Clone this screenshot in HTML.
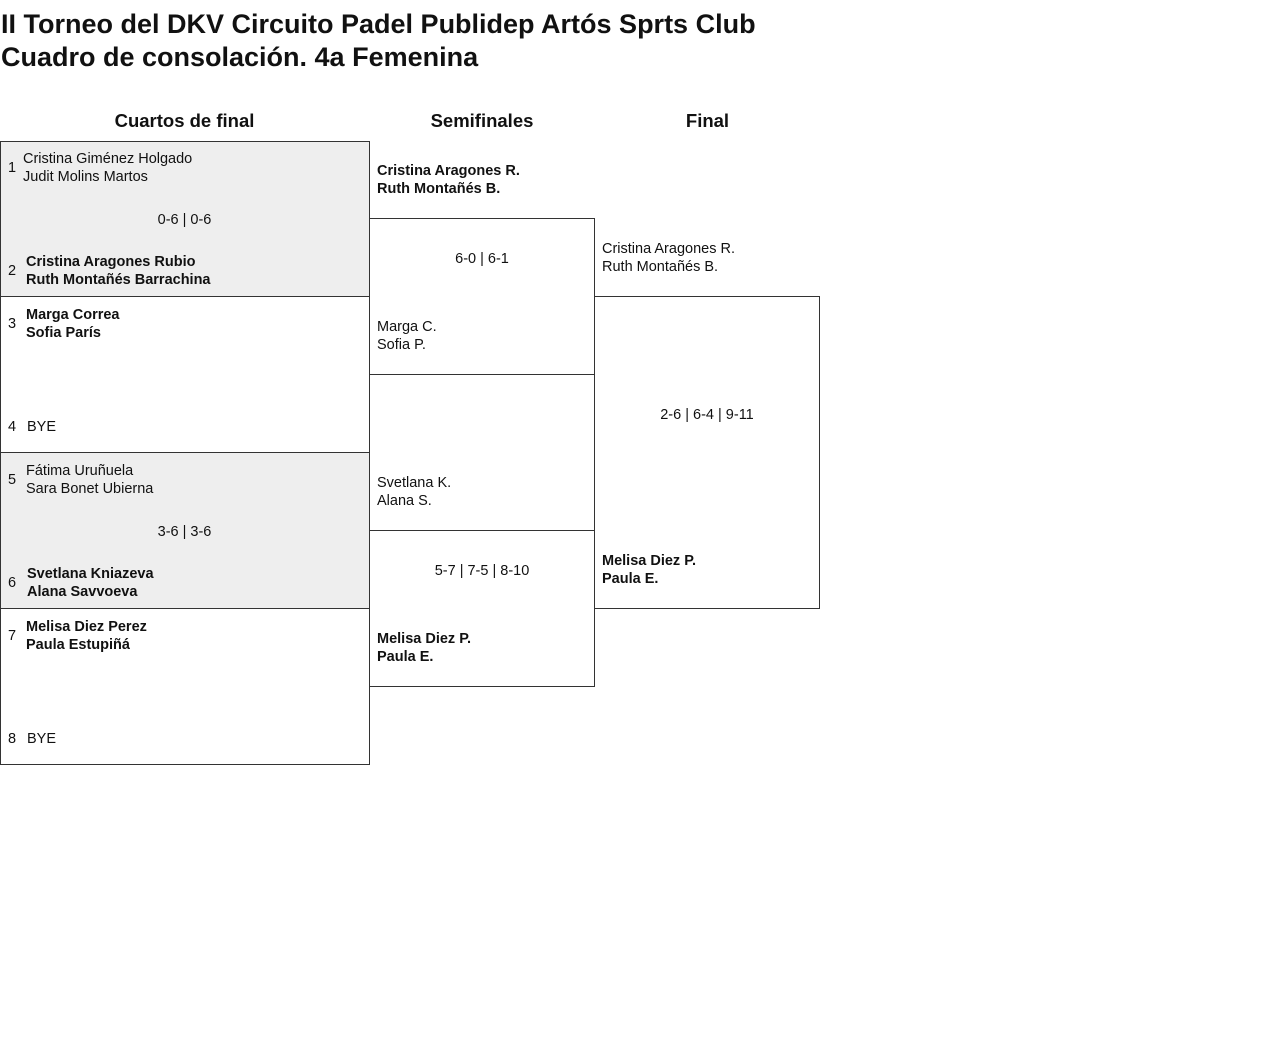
<!DOCTYPE html>
<html><head><meta charset="utf-8"><style>
body{margin:0;width:1280px;height:1048px;background:#fff;font-family:"Liberation Sans",sans-serif;color:#111;position:relative;overflow:hidden}
.a{position:absolute;white-space:nowrap}
.t{font-size:27px;font-weight:bold;left:1px;letter-spacing:0}
.h{font-size:18.5px;font-weight:bold;text-align:center}
.box{position:absolute;border:1px solid #333;box-sizing:border-box}
.g{background:#eee}
.n{font-size:14.5px;line-height:18px}
.b{font-weight:bold}
</style></head><body>
<div class="a t" style="top:9px">II Torneo del DKV Circuito Padel Publidep Artós Sprts Club</div>
<div class="a t" style="top:42px">Cuadro de consolación. 4a Femenina</div>
<div class="a h" style="left:0;width:369px;top:110px">Cuartos de final</div>
<div class="a h" style="left:369px;width:226px;top:110px">Semifinales</div>
<div class="a h" style="left:595px;width:225px;top:110px">Final</div>

<div class="box g" style="left:0;top:141px;width:370px;height:156px"></div>
<div class="box" style="left:0;top:296px;width:370px;height:157px"></div>
<div class="box g" style="left:0;top:452px;width:370px;height:157px"></div>
<div class="box" style="left:0;top:608px;width:370px;height:157px"></div>
<div class="box" style="left:369px;top:218px;width:226px;height:157px"></div>
<div class="box" style="left:369px;top:530px;width:226px;height:157px"></div>
<div class="box" style="left:594px;top:296px;width:226px;height:313px"></div>

<div class="a n" style="left:8px;top:159px">1</div>
<div class="a n" style="left:23px;top:150px">Cristina Giménez Holgado<br>Judit Molins Martos</div>
<div class="a n" style="left:0;width:369px;text-align:center;top:211px">0-6 | 0-6</div>
<div class="a n" style="left:8px;top:262px">2</div>
<div class="a n b" style="left:26px;top:253px">Cristina Aragones Rubio<br>Ruth Montañés Barrachina</div>
<div class="a n" style="left:8px;top:315px">3</div>
<div class="a n b" style="left:26px;top:306px">Marga Correa<br>Sofia París</div>
<div class="a n" style="left:8px;top:418px">4</div>
<div class="a n" style="left:27px;top:418px">BYE</div>
<div class="a n" style="left:8px;top:471px">5</div>
<div class="a n" style="left:26px;top:462px">Fátima Uruñuela<br>Sara Bonet Ubierna</div>
<div class="a n" style="left:0;width:369px;text-align:center;top:523px">3-6 | 3-6</div>
<div class="a n" style="left:8px;top:574px">6</div>
<div class="a n b" style="left:27px;top:565px">Svetlana Kniazeva<br>Alana Savvoeva</div>
<div class="a n" style="left:8px;top:627px">7</div>
<div class="a n b" style="left:26px;top:618px">Melisa Diez Perez<br>Paula Estupiñá</div>
<div class="a n" style="left:8px;top:730px">8</div>
<div class="a n" style="left:27px;top:730px">BYE</div>

<div class="a n b" style="left:377px;top:162px">Cristina Aragones R.<br>Ruth Montañés B.</div>
<div class="a n" style="left:369px;width:226px;text-align:center;top:250px">6-0 | 6-1</div>
<div class="a n" style="left:377px;top:318px">Marga C.<br>Sofia P.</div>
<div class="a n" style="left:377px;top:474px">Svetlana K.<br>Alana S.</div>
<div class="a n" style="left:369px;width:226px;text-align:center;top:562px">5-7 | 7-5 | 8-10</div>
<div class="a n b" style="left:377px;top:630px">Melisa Diez P.<br>Paula E.</div>

<div class="a n" style="left:602px;top:240px">Cristina Aragones R.<br>Ruth Montañés B.</div>
<div class="a n" style="left:594px;width:226px;text-align:center;top:406px">2-6 | 6-4 | 9-11</div>
<div class="a n b" style="left:602px;top:552px">Melisa Diez P.<br>Paula E.</div>
</body></html>
